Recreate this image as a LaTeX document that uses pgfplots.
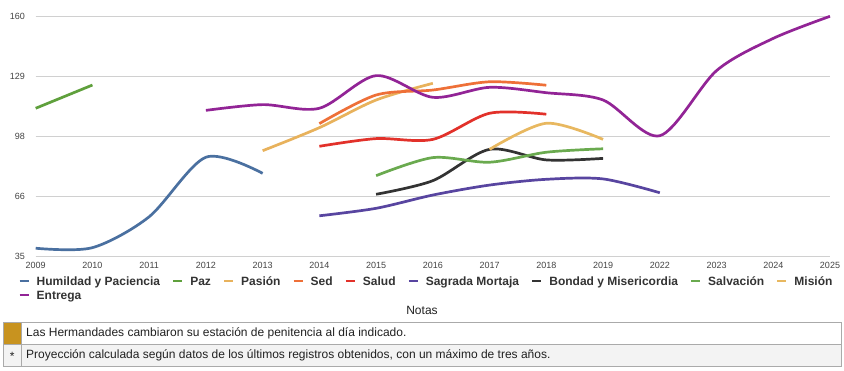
\documentclass[border=0pt]{standalone}
\usepackage{fontspec}
\setmainfont{Liberation Sans}
\usepackage{pgfplots}
\pgfplotsset{compat=1.18}
\definecolor{cHum}{HTML}{4A70A0}
\definecolor{cPaz}{HTML}{5FA03C}
\definecolor{cPas}{HTML}{E8B25C}
\definecolor{cSed}{HTML}{EE7038}
\definecolor{cSal}{HTML}{E2312A}
\definecolor{cSag}{HTML}{5845A0}
\definecolor{cBon}{HTML}{333333}
\definecolor{cSalv}{HTML}{6AAA4F}
\definecolor{cMis}{HTML}{E8B860}
\definecolor{cEnt}{HTML}{922496}
\definecolor{gridc}{HTML}{D0D0D0}
\definecolor{tickc}{HTML}{444444}
\definecolor{legc}{HTML}{333333}
\definecolor{gold}{HTML}{C8931F}
\definecolor{rowgray}{HTML}{F3F3F3}
\definecolor{border}{HTML}{AAAAAA}
\begin{document}
\begin{tikzpicture}
\path[use as bounding box, fill=white] (0,0) rectangle (844pt,370pt);
\begin{axis}[
  at={(35.7pt,113.7pt)}, anchor=south west,
  scale only axis, width=794.3pt, height=240pt,
  xmin=0, xmax=14, ymin=35, ymax=160,
  clip=false,
  axis line style={draw=none},
  major tick style={draw=none},
  ymajorgrids, grid style={color=gridc, line width=0.9pt},
  ytick={35,66.25,97.5,128.75,160},
  yticklabels={35,66,98,129,160},
  xtick={0,...,14},
  xticklabels={2009,2010,2011,2012,2013,2014,2015,2016,2017,2018,2019,2022,2023,2024,2025},
  tick label style={font=\fontsize{9}{10}\selectfont, text=tickc},
  yticklabel style={anchor=east, inner sep=0pt, xshift=-10.7pt},
  xticklabel style={anchor=north, inner sep=0pt, yshift=-5.7pt},
  /pgf/number format/assume math mode=true,
  every axis plot/.append style={line width=2.7pt, smooth},
  legend columns=9,
  legend style={at={(0,0)}, anchor=north west, xshift=-17pt, yshift=-20pt,
    draw=none, fill=none, inner sep=0pt, outer sep=0pt,
    /tikz/row sep=2.7pt,
    /tikz/every odd column/.append style={column sep=7pt},
    /tikz/every even column/.append style={column sep=12.2pt},
    nodes={inner sep=0pt, outer sep=0pt, text height=9pt, text depth=3pt,
      font=\bfseries\fontsize{12}{14}\selectfont, text=legc}},
  legend cell align=left,
  legend image code/.code={
    \path[draw=none, fill=none] (-1pt,-1pt) rectangle (10pt,1pt);
    \draw[#1, overlay, line width=2pt] (0pt,1.5pt) -- (9pt,1.5pt);
  },
]
\addplot[cHum] coordinates {(0,39.2) (1,39.5) (2,55.6) (3,86.6) (4,78.2)};
\addlegendentry{Humildad y Paciencia}
\addplot[cPaz] coordinates {(0,112.1) (1,124.2)};
\addlegendentry{Paz}
\addplot[cPas] coordinates {(4,90.0) (5,102.0) (6,116.4) (7,125.1)};
\addlegendentry{Pasión}
\addplot[cSed] coordinates {(5,104.1) (6,119.0) (7,121.6) (8,125.9) (9,124.1)};
\addlegendentry{Sed}
\addplot[cSal] coordinates {(5,92.3) (6,96.3) (7,95.9) (8,109.5) (9,109.0)};
\addlegendentry{Salud}
\addplot[cSag] coordinates {(5,56.1) (6,60.0) (7,66.9) (8,72.1) (9,75.1) (10,75.3) (11,68.1)};
\addlegendentry{Sagrada Mortaja}
\addplot[cBon] coordinates {(6,67.3) (7,74.4) (8,90.7) (9,85.2) (10,86.0)};
\addlegendentry{Bondad y Misericordia}
\addplot[cSalv] coordinates {(6,77.0) (7,86.4) (8,84.0) (9,89.2) (10,91.0)};
\addlegendentry{Salvación}
\addplot[cMis] coordinates {(8,90.7) (9,104.3) (10,95.9)};
\addlegendentry{Misión}
\addplot[cEnt] coordinates {(3,111.0) (4,114.0) (5,112.1) (6,129.1) (7,117.8) (8,123.0) (9,120.2) (10,116.4) (11,97.8) (12,131.7) (13,148.5) (14,160.0)};
\addlegendentry{Entrega}
\end{axis}
% Notes
\node[font=\fontsize{12}{14}\selectfont, text=black!87] at (422pt,60pt) {Notas};
\fill[rowgray] (3.3pt,4pt) rectangle (841pt,25.7pt);
\fill[gold] (3.3pt,25.7pt) rectangle (21.3pt,47.3pt);
\draw[border, line width=0.9pt] (3.3pt,4pt) rectangle (841pt,47.3pt);
\draw[border, line width=0.9pt] (3.3pt,25.7pt) -- (841pt,25.7pt);
\draw[border, line width=0.9pt] (21.3pt,4pt) -- (21.3pt,47.3pt);
\node[anchor=west, inner sep=0pt, font=\fontsize{12}{14}\selectfont, text=black!87] at (26pt,36.5pt) {Las Hermandades cambiaron su estación de penitencia al día indicado.};
\node[anchor=west, inner sep=0pt, font=\fontsize{12}{14}\selectfont, text=black!87] at (26pt,15pt) {Proyección calculada según datos de los últimos registros obtenidos, con un máximo de tres años.};
\node[inner sep=0pt, font=\fontsize{12}{14}\selectfont, text=black!87] at (12.3pt,14pt) {*};
\end{tikzpicture}
\end{document}
